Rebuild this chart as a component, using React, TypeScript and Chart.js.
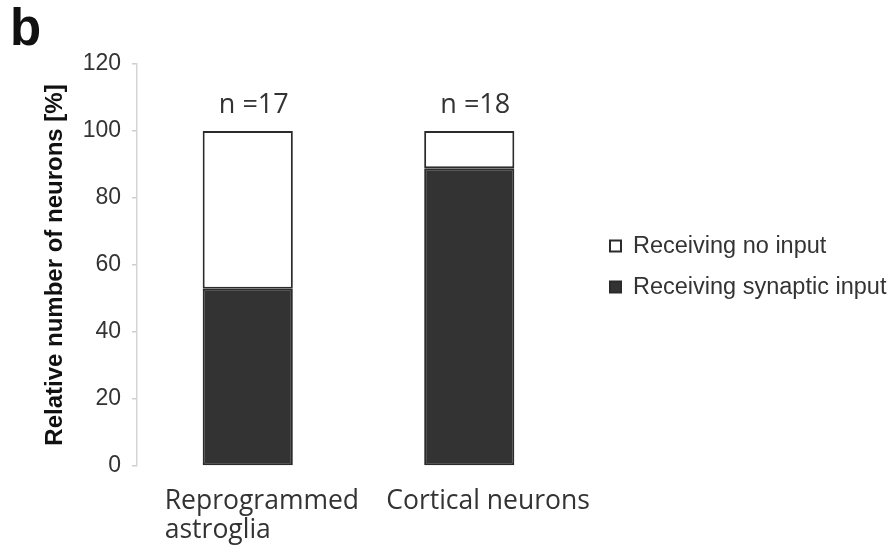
import React, { useEffect, useRef } from "react";
import { Chart, registerables } from "chart.js";

Chart.register(...registerables);

const categories: (string | string[])[] = [["Reprogrammed", "astroglia"], "Cortical neurons"];
const synapticInput = [52.9, 88.9];
const noInput = [47.1, 11.1];
const sampleSizes = ["n =17", "n =18"];
const seriesNames = ["Receiving synaptic input", "Receiving no input"];
const yTicks = [0, 20, 40, 60, 80, 100, 120];
const panelLetter = "b";
const yTitle = "Relative number of neurons [%]";

const DARK = "#333333";
const EDGE = "#2b2b2b";

const overlayPlugin = {
  id: "overlay",
  afterDraw(chart: any) {
    const ctx = chart.ctx;
    const xs = chart.scales.x;
    const ys = chart.scales.y;
    const area = chart.chartArea;
    ctx.save();
    // panel letter
    ctx.fillStyle = "#111";
    ctx.font = "bold 51px 'Liberation Sans', Arial, sans-serif";
    ctx.textAlign = "left";
    ctx.textBaseline = "alphabetic";
    ctx.fillText(panelLetter, 10, 45);
    // n labels
    ctx.font = "27px 'Open Sans', sans-serif";
    ctx.fillStyle = "#333";
    ctx.textAlign = "center";
    sampleSizes.forEach((s, i) => {
      const total = synapticInput[i] + noInput[i];
      ctx.fillText(s, xs.getPixelForValue(i) + 6, ys.getPixelForValue(total) - 18);
    });
    // legend (reverse order: no input on top)
    const ds = chart.data.datasets;
    const order = [1, 0];
    const lx = area.right + 30;
    order.forEach((di, k) => {
      const cy = 246 + k * 41;
      ctx.fillStyle = ds[di].backgroundColor;
      ctx.fillRect(lx, cy - 5.5, 11, 11);
      ctx.strokeStyle = EDGE;
      ctx.lineWidth = 2;
      ctx.strokeRect(lx, cy - 5.5, 11, 11);
      ctx.fillStyle = "#333";
      ctx.font = "23.5px 'Liberation Sans', Arial, sans-serif";
      ctx.textAlign = "left";
      ctx.textBaseline = "middle";
      ctx.fillText(ds[di].label, lx + 23, cy + 1);
    });
    ctx.restore();
  },
};

export default function App() {
  const ref = useRef<HTMLCanvasElement>(null);
  useEffect(() => {
    if (!ref.current) return;
    const chart = new Chart(ref.current, {
      type: "bar",
      data: {
        labels: categories,
        datasets: [
          {
            label: seriesNames[0],
            data: synapticInput,
            backgroundColor: DARK,
            borderColor: EDGE,
            borderWidth: 2,
            borderSkipped: false,
          },
          {
            label: seriesNames[1],
            data: noInput,
            backgroundColor: "#ffffff",
            borderColor: EDGE,
            borderWidth: 2,
            borderSkipped: false,
          },
        ],
      },
      options: {
        animation: false,
        responsive: false,
        maintainAspectRatio: false,
        layout: { padding: { top: 64, right: 314, left: 0, bottom: 0 } },
        datasets: { bar: { categoryPercentage: 1, barPercentage: 0.407 } },
        plugins: { legend: { display: false }, tooltip: { enabled: false } },
        scales: {
          x: {
            stacked: true,
            grid: { display: false },
            border: { display: false },
            ticks: {
              color: "#333",
              font: { family: "'Open Sans', sans-serif", size: 26.5, lineHeight: 1.13 },
              align: "start",
              labelOffset: -83,
              padding: 12,
              maxRotation: 0,
              autoSkip: false,
            },
            afterFit: (s: any) => {
              s.height = 83;
            },
          },
          y: {
            stacked: true,
            min: 0,
            max: 120,
            afterBuildTicks: (s: any) => {
              s.ticks = yTicks.map((v) => ({ value: v }));
            },
            ticks: {
              color: "#333",
              font: { family: "'Liberation Sans', Arial, sans-serif", size: 23 },
              padding: 11,
            },
            grid: { drawOnChartArea: false, tickLength: 5, tickColor: "#cfcfcf", lineWidth: 1.5 },
            border: { color: "#d5d5d5", width: 1.5 },
            title: {
              display: true,
              text: yTitle,
              color: "#111",
              font: { family: "'Liberation Sans', Arial, sans-serif", size: 24, weight: "bold" },
              padding: { top: 41, bottom: 0 },
            },
            afterFit: (s: any) => {
              s.width = 137;
            },
          },
        },
      },
      plugins: [overlayPlugin],
    });
    return () => chart.destroy();
  }, []);
  return (
    <div style={{ position: "absolute", left: 0, top: 0, width: 894, height: 549, background: "#fff" }}>
      <canvas ref={ref} width={894} height={549} style={{ display: "block" }} />
    </div>
  );
}
